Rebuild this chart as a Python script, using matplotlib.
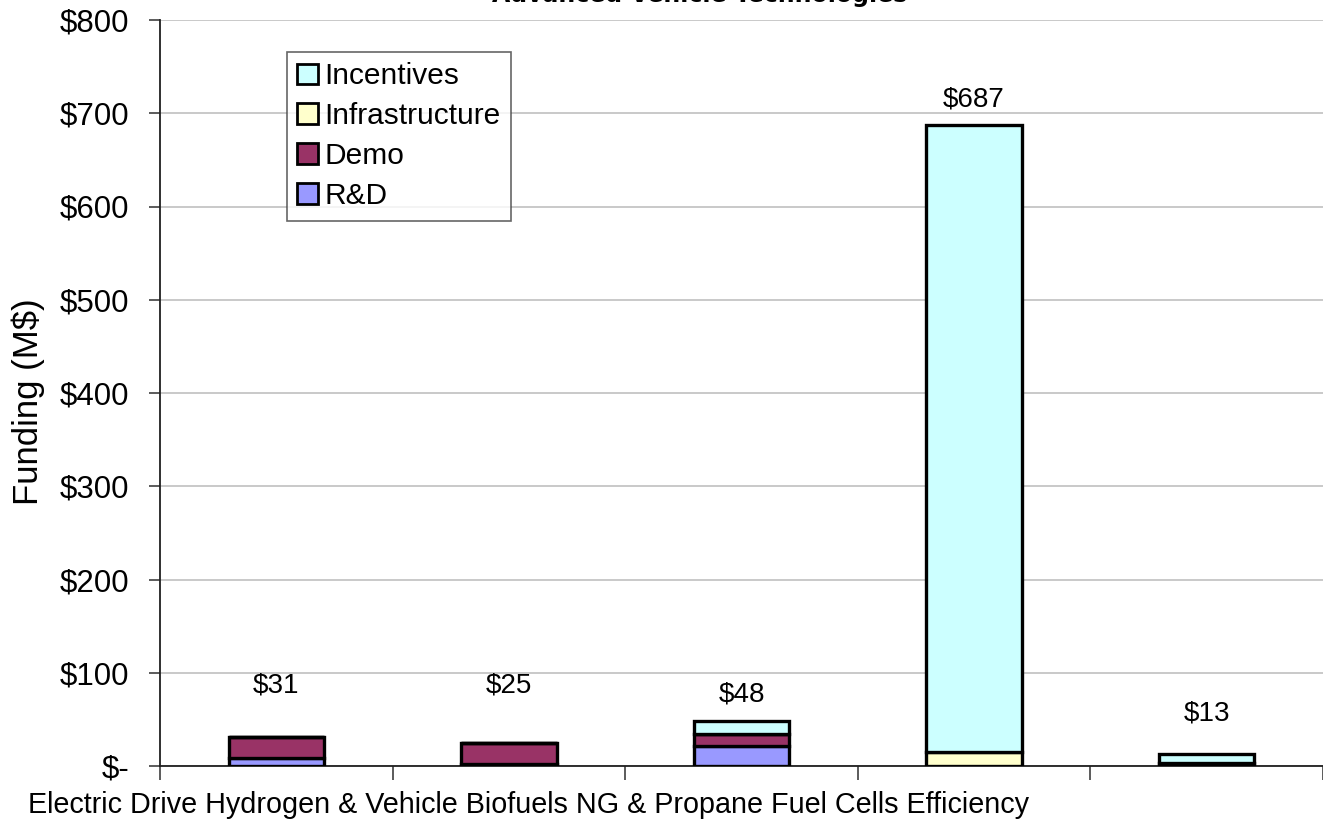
import matplotlib
matplotlib.use("Agg")
import matplotlib.pyplot as plt
import numpy as np

categories = ["Electric Drive", "Hydrogen & Fuel Cells", "Biofuels", "NG & Propane", "Vehicle Efficiency"]
series_names = ["R&D", "Demo", "Infrastructure", "Incentives"]
rd = [9, 2, 21, 0, 0]
demo = [22, 23, 13, 0, 3]
infrastructure = [0, 0, 0, 15, 0]
incentives = [0, 0, 14, 672, 10]
totals_labels = ["$31", "$25", "$48", "$687", "$13"]
label_offsets = [41, 47, 15, 14, 29]
yticks = [0, 100, 200, 300, 400, 500, 600, 700, 800]
ytick_labels = ["$-", "$100", "$200", "$300", "$400", "$500", "$600", "$700", "$800"]
bottom_text = "Electric Drive Hydrogen & Vehicle Biofuels NG & Propane Fuel Cells Efficiency"

colors = {"R&D": "#9999FF", "Demo": "#993366", "Infrastructure": "#FFFFCC", "Incentives": "#CCFFFF"}

plt.rcParams['font.family'] = ['Liberation Sans', 'DejaVu Sans']

W, H = 1323, 826
fig = plt.figure(figsize=(W / 100, H / 100), dpi=100)
ax = fig.add_axes([160 / W, 1 - 766 / H, 1 - 160 / W, (766 - 20) / H])

x = np.arange(len(categories))
bw = 0.41
bottom = np.zeros(len(categories))
data = {"R&D": rd, "Demo": demo, "Infrastructure": infrastructure, "Incentives": incentives}
handles = {}
for name in series_names:
    vals = np.array(data[name], dtype=float)
    b = ax.bar(x, vals, bw, bottom=bottom, color=colors[name], edgecolor="black",
               linewidth=2.4, zorder=3)
    handles[name] = b
    bottom += vals

for i in range(len(categories)):
    ax.text(x[i], bottom[i] + label_offsets[i], totals_labels[i], ha="center", va="bottom",
            fontsize=20, color="black")

ax.set_xlim(-0.5, len(categories) - 0.5)
ax.set_ylim(0, 800)
ax.set_yticks(yticks)
ax.set_yticklabels(ytick_labels, fontsize=22.5)
ax.yaxis.grid(True, color="#c0c0c0", linewidth=1.2, zorder=0)
ax.set_axisbelow(True)
ax.set_xticks(np.arange(len(categories) + 1) - 0.5)
ax.set_xticklabels([])
ax.tick_params(axis="x", direction="out", length=10, width=1.2, color="#404040")
ax.tick_params(axis="y", direction="out", length=8, width=1.2, color="#404040", pad=14)
for s in ["top", "right"]:
    ax.spines[s].set_visible(False)
for s in ["left", "bottom"]:
    ax.spines[s].set_linewidth(1.3)
    ax.spines[s].set_color("#202020")

ax.set_ylabel("Funding (M$)", fontsize=25, va="center")
ax.yaxis.set_label_coords((28 - 160) / (W - 160), (766 - 402) / 746)

leg = ax.legend([handles[n] for n in ["Incentives", "Infrastructure", "Demo", "R&D"]],
                ["Incentives", "Infrastructure", "Demo", "R&D"],
                loc="upper left", bbox_to_anchor=((287 - 160) / (W - 160), 1 - (52 - 20) / 746),
                prop={"size": 21.5}, frameon=True, fancybox=False, edgecolor="#404040",
                handlelength=0.7, handleheight=0.7, handletextpad=0.2, labelspacing=0.4,
                borderpad=0.35, borderaxespad=0)
leg.get_frame().set_linewidth(1.2)
for p in leg.get_patches():
    p.set_linewidth(2.0)

# partially cut-off title at the top (as in the reference)
fig.text(700 / W, 1 - 2 / H, "Advanced Vehicle Technologies", ha="center", va="baseline",
         fontsize=17, fontweight="bold", family="DejaVu Sans")

# category text line
t = fig.text(28 / W, 1 - 813 / H, bottom_text, ha="left", va="baseline", fontsize=18)
fig.canvas.draw()
ext = t.get_window_extent()
t.set_fontsize(18 * 1002 / ext.width)

fig.savefig("out.png", dpi=100)
